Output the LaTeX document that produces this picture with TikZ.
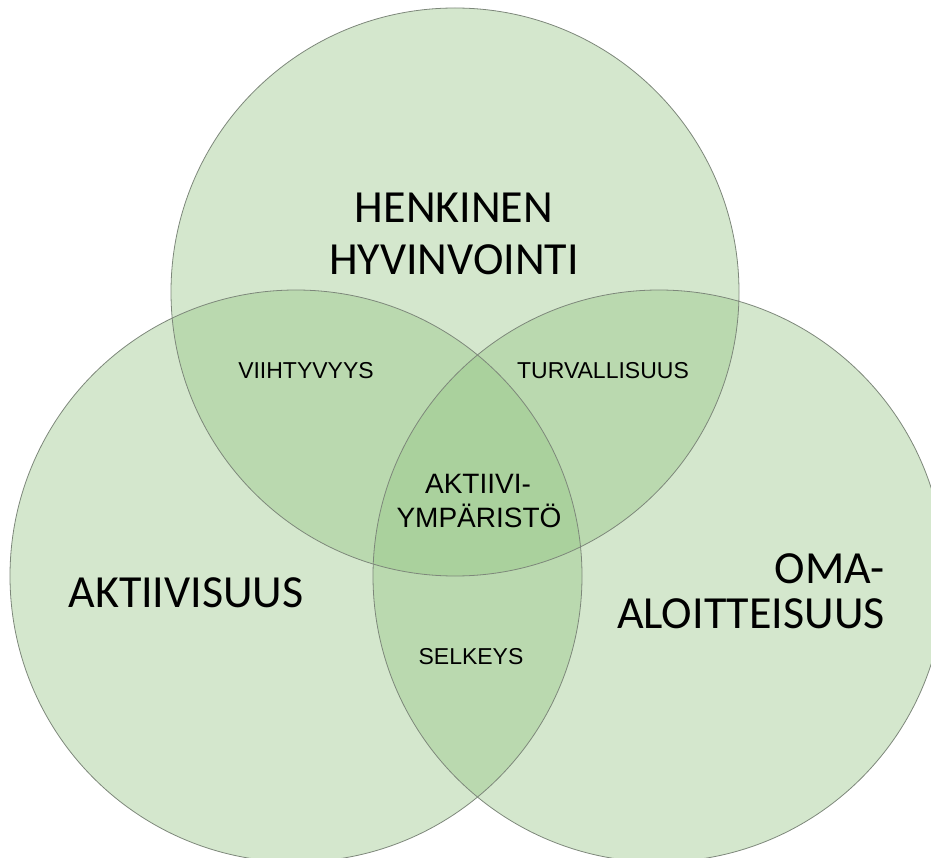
\documentclass[tikz,border=0pt]{standalone}
\usepackage{fontspec}
\setmainfont{Carlito}
\newfontfamily\arialf{Liberation Sans}
\definecolor{vennfill}{RGB}{147,196,130}
\definecolor{vennline}{RGB}{125,135,122}
\begin{document}
\begin{tikzpicture}[x=1pt,y=-1pt,
  vcircle/.style={fill=vennfill,fill opacity=0.40,draw=none},
  vborder/.style={draw=vennline,line width=0.8pt},
  biglabel/.style={font=\fontsize{46}{54}\selectfont,text=black,inner sep=0pt},
  smalllabel/.style={font=\arialf\fontsize{23}{28}\selectfont,text=black,inner sep=0pt},
  midlabel/.style={font=\arialf\fontsize{28}{34}\selectfont,text=black,inner sep=0pt}]
\useasboundingbox (0,0) rectangle (931,858);
\begin{scope}
\clip (0,0) rectangle (931,858);
\coordinate (ct) at (455,292);
\coordinate (cl) at (296,576);
\coordinate (cr) at (659,576);
\fill[vcircle] (ct) circle[radius=284];
\fill[vcircle] (cl) circle[radius=286];
\fill[vcircle] (cr) circle[radius=286];
\draw[vborder] (ct) circle[radius=284];
\draw[vborder] (cl) circle[radius=286];
\draw[vborder] (cr) circle[radius=286];
\end{scope}
\node[biglabel,anchor=base] (henk) at (454,223) {HENKINEN};
\node[biglabel,anchor=base] (hyv) at (454,275) {HYVINVOINTI};
\node[biglabel,anchor=base] (akt) at (186,607) {AKTIIVISUUS};
\node[biglabel,anchor=base east] (oma) at (885,583) {OMA-};
\node[biglabel,anchor=base east] (aloit) at (885,628) {ALOITTEISUUS};
\node[smalllabel,anchor=base] (viih) at (306,378) {VIIHTYVYYS};
\node[smalllabel,anchor=base] (turv) at (603,378) {TURVALLISUUS};
\node[smalllabel,anchor=base] (selk) at (471,664) {SELKEYS};
\node[midlabel,anchor=base] (akt1) at (478,493) {AKTIIVI-};
\node[midlabel,anchor=base] (akt2) at (479,527) {YMPÄRISTÖ};
\end{tikzpicture}
\end{document}
